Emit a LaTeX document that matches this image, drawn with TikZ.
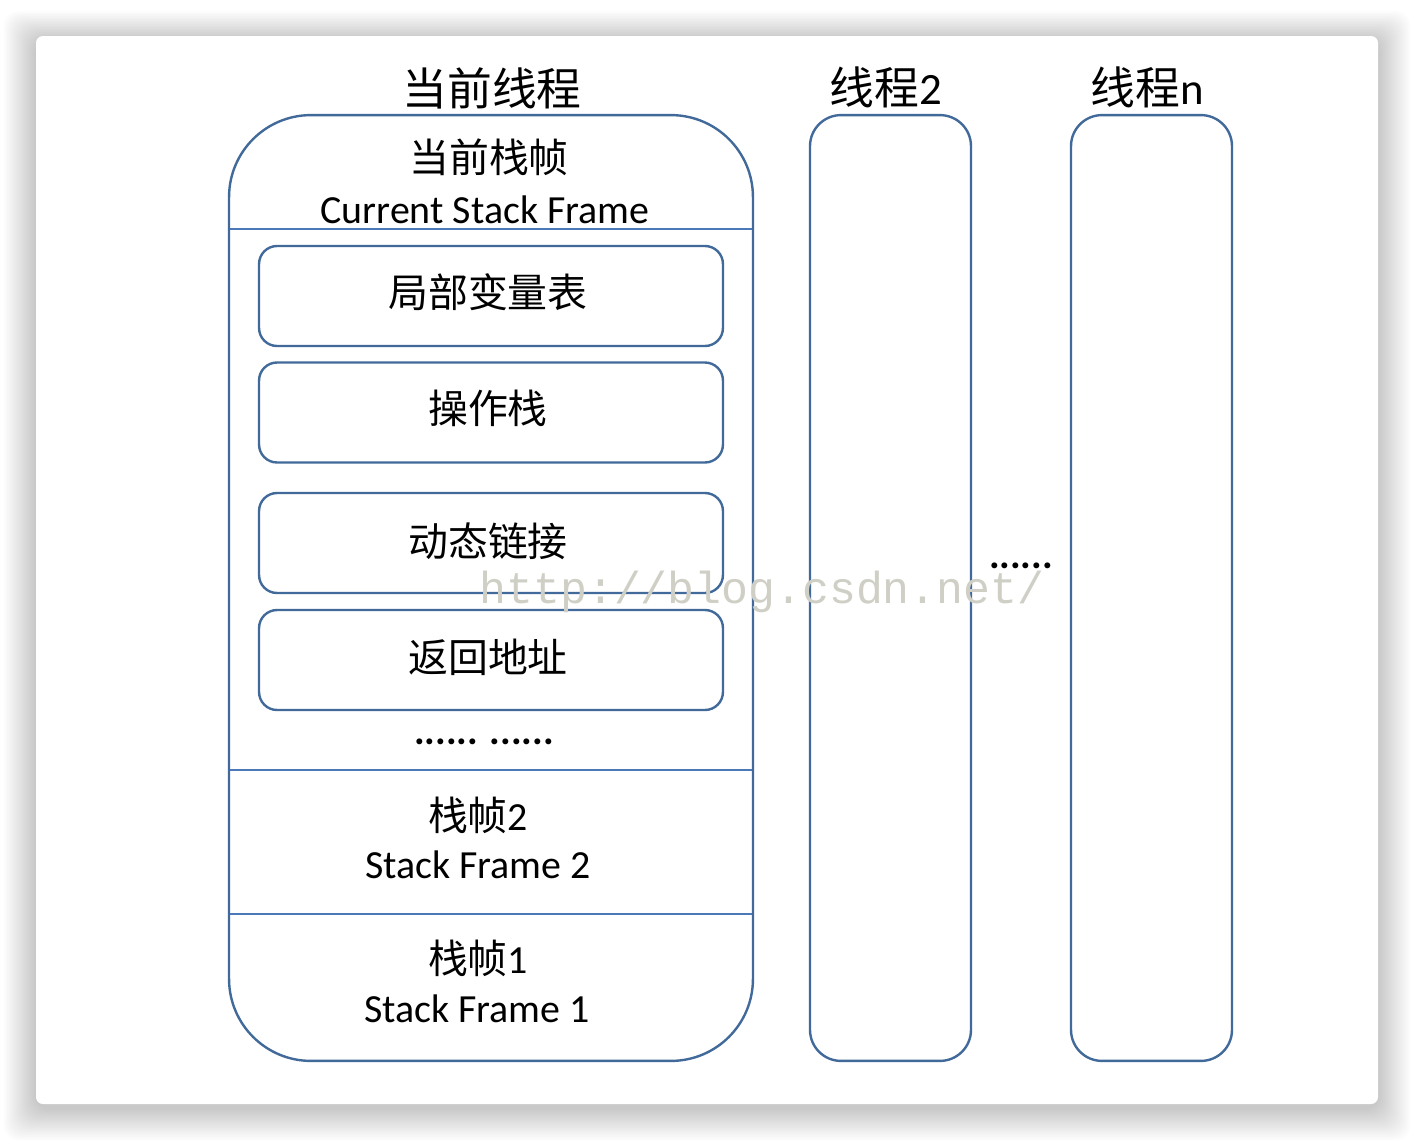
\documentclass[tikz,border=0pt]{standalone}
\usepackage{fontspec}
\setmainfont{Carlito}
\newfontfamily\cjk{Noto Sans CJK SC}
\newfontfamily\wmfont{Liberation Mono}
\begin{document}
\begin{tikzpicture}[x=0.02cm,y=-0.02cm,
  outl/.style={draw=boxblue, line width=2.4pt*0.5669},
  inbox/.style={outl, rounded corners=0.36cm, minimum width=9.28cm, minimum height=2.0cm, inner sep=0pt},
  thrbox/.style={outl, rounded corners=0.62cm, minimum width=3.22cm, minimum height=18.92cm, inner sep=0pt},
  divline/.style={draw=divblue, line width=2.2pt*0.5669},
  big/.style={font=\fontsize{25.5pt}{28pt}\selectfont, inner sep=0pt},
  mid/.style={font=\fontsize{22.7pt}{26pt}\selectfont, inner sep=0pt},
  dotsty/.style={font=\bfseries\fontsize{22.7pt}{26pt}\selectfont, inner sep=0pt},
  wm/.style={font=\wmfont\fontsize{25.5pt}{28pt}\selectfont, text=wmgray, inner sep=0pt}
]
\definecolor{boxblue}{HTML}{41699A}
\definecolor{divblue}{HTML}{4A78B8}
\definecolor{wmgray}{HTML}{CFCFC6}
\useasboundingbox (0,0) rectangle (1414,1140);
% background and card shadow
\fill[white] (0,0) rectangle (1414,1140);
\foreach \i in {1,...,18}{
  \fill[black, opacity=0.013, rounded corners=0.3cm]
    (36-1.8*\i, 40-1.6*\i) rectangle (1378+1.8*\i, 1108+1.8*\i);
}
\fill[white, rounded corners=0.14cm] (36,36) rectangle (1378,1104);
% main thread box
\node[outl, rounded corners=1.64cm, minimum width=10.48cm, minimum height=18.92cm, inner sep=0pt] (main) at (491,588) {};
\draw[divline] (230,229) -- (752,229);
\draw[divline] (230,770) -- (752,770);
\draw[divline] (230,914) -- (752,914);
% inner boxes
\node[inbox] (lvt) at (491,296) {};
\node[inbox] (ops) at (491,412.5) {};
\node[inbox] (dyn) at (491,543) {};
\node[inbox] (ret) at (491,660) {};
% thread boxes
\node[thrbox] (t2) at (890.5,588) {};
\node[thrbox] (tn) at (1151.5,588) {};
% labels
\node[big] (lcur) at (492,88) {\cjk 当前线程};
\node[mid] (lcsf) at (489,157) {\cjk 当前栈帧};
\node[mid] (lcsfe) at (485,210) {Current Stack Frame};
\node[mid] (llvt) at (488,292) {\cjk 局部变量表};
\node[mid] (lops) at (488,408) {\cjk 操作栈};
\node[mid] (ldyn) at (488,541) {\cjk 动态链接};
\node[mid] (lret) at (488,657) {\cjk 返回地址};
\node[dotsty] (ldots) at (484,742) {...... ......};
\node[mid] (lsf2) at (478,815) {{\cjk 栈帧}2};
\node[mid] (lsf2e) at (478,865) {Stack Frame 2};
\node[mid] (lsf1) at (478,958) {{\cjk 栈帧}1};
\node[mid] (lsf1e) at (477,1009) {Stack Frame 1};
\node[big] (lt2) at (886,87) {{\cjk 线程}2};
\node[big] (ltn) at (1147,87) {{\cjk 线程}n};
\node[dotsty] (lmid) at (1021,566) {......};
\node[wm] (wmark) at (762,592) {http://blog.csdn.net/};
\end{tikzpicture}
\end{document}
